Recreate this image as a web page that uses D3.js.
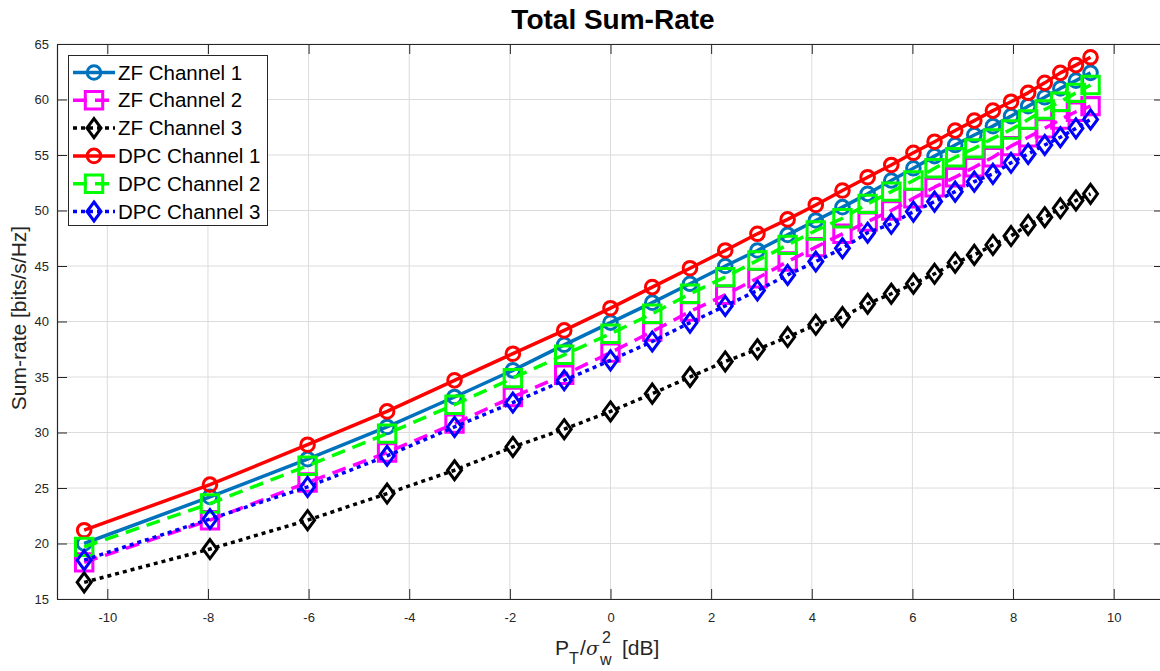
<!DOCTYPE html>
<html>
<head>
<meta charset="utf-8">
<script src="https://cdn.jsdelivr.net/npm/d3@7"></script>
<style>
  html, body { margin: 0; padding: 0; background: #fff; }
  svg { display: block; font-family: "Liberation Sans", Arial, Helvetica, sans-serif; }
</style>
</head>
<body>
<svg id="chart" width="1160" height="671"></svg>
<script>
// ---- data ----
const snrDb = [-10.46, -7.96, -6.02, -4.44, -3.10, -1.94, -0.92, 0, 0.83, 1.58, 2.28, 2.92, 3.52, 4.08, 4.61, 5.11, 5.58, 6.02, 6.44, 6.85, 7.23, 7.60, 7.96, 8.30, 8.63, 8.94, 9.25, 9.54];
const zfCh1  = [20.0, 24.2, 27.6, 30.5, 33.2, 35.6, 37.9, 39.9, 41.7, 43.4, 45.0, 46.4, 47.8, 49.1, 50.3, 51.5, 52.7, 53.8, 54.9, 55.9, 56.8, 57.6, 58.5, 59.4, 60.2, 61.0, 61.7, 62.4];
const zfCh2  = [18.3, 22.1, 25.5, 28.2, 30.8, 33.2, 35.2, 37.2, 39.1, 40.9, 42.4, 43.9, 45.4, 46.7, 47.9, 49.0, 50.0, 51.1, 52.1, 53.0, 53.9, 54.8, 55.8, 56.6, 57.4, 58.2, 58.9, 59.4];
const zfCh3  = [16.5, 19.5, 22.1, 24.5, 26.6, 28.7, 30.3, 31.9, 33.5, 35.0, 36.4, 37.5, 38.6, 39.7, 40.4, 41.6, 42.5, 43.4, 44.3, 45.3, 46.0, 46.9, 47.7, 48.7, 49.4, 50.2, 50.9, 51.5];
const dpcCh1 = [21.2, 25.3, 28.9, 31.9, 34.7, 37.1, 39.2, 41.2, 43.1, 44.8, 46.4, 47.9, 49.2, 50.5, 51.8, 53.0, 54.1, 55.2, 56.2, 57.2, 58.1, 59.0, 59.8, 60.6, 61.5, 62.4, 63.1, 63.8];
const dpcCh2 = [19.7, 23.6, 27.0, 29.9, 32.5, 34.9, 37.0, 38.9, 40.7, 42.5, 44.0, 45.5, 46.9, 48.2, 49.3, 50.6, 51.7, 52.7, 53.8, 54.8, 55.6, 56.5, 57.3, 58.2, 59.1, 59.8, 60.6, 61.3];
const dpcCh3 = [18.5, 22.2, 25.1, 27.9, 30.5, 32.7, 34.7, 36.5, 38.2, 39.9, 41.4, 42.8, 44.2, 45.4, 46.6, 48.0, 48.8, 49.9, 50.8, 51.7, 52.6, 53.3, 54.3, 55.1, 55.9, 56.6, 57.4, 58.2];
const seriesNames = ["ZF Channel 1", "ZF Channel 2", "ZF Channel 3", "DPC Channel 1", "DPC Channel 2", "DPC Channel 3"];
const xTicks = [-10, -8, -6, -4, -2, 0, 2, 4, 6, 8, 10];
const yTicks = [15, 20, 25, 30, 35, 40, 45, 50, 55, 60, 65];

// ---- styles ----
const styles = [
  { color: "#0072BD", dash: null,   marker: "circle"  },
  { color: "#FF00FF", dash: "14,8", marker: "square"  },
  { color: "#000000", dash: "4,4",  marker: "diamond" },
  { color: "#FF0000", dash: null,   marker: "circle"  },
  { color: "#00FF00", dash: "14,8", marker: "square"  },
  { color: "#0000FF", dash: "4,4",  marker: "diamond" }
];
const seriesValues = [zfCh1, zfCh2, zfCh3, dpcCh1, dpcCh2, dpcCh3];

const svg = d3.select("#chart");
const L = 57, T = 44, R = 1164, B = 599;
const x = d3.scaleLinear().domain([-11, 11]).range([L, R]);
const y = d3.scaleLinear().domain([15, 65]).range([B, T]);
const axisColor = "#262626";

// grid
const grid = svg.append("g");
grid.selectAll("line.gx").data(xTicks).join("line")
  .attr("x1", d => x(d)).attr("x2", d => x(d)).attr("y1", T).attr("y2", B)
  .attr("stroke", "#dcdcdc").attr("stroke-width", 1);
grid.selectAll("line.gy").data(yTicks).join("line")
  .attr("x1", L).attr("x2", R).attr("y1", d => y(d)).attr("y2", d => y(d))
  .attr("stroke", "#dcdcdc").attr("stroke-width", 1);

// axes
const tickLen = 10;
const fmt = d => String(d);
const xAxisB = d3.axisBottom(x).tickValues(xTicks).tickFormat(fmt).tickSizeInner(-tickLen).tickSizeOuter(0).tickPadding(14);
const xAxisT = d3.axisTop(x).tickValues(xTicks).tickSizeInner(-tickLen).tickSizeOuter(0).tickFormat("");
const yAxisL = d3.axisLeft(y).tickValues(yTicks).tickFormat(fmt).tickSizeInner(-tickLen).tickSizeOuter(0).tickPadding(8);
const yAxisR = d3.axisRight(y).tickValues(yTicks).tickSizeInner(-tickLen).tickSizeOuter(0).tickFormat("");
function styleAxis(g) {
  g.select(".domain").attr("stroke", axisColor).attr("stroke-width", 1.2);
  g.selectAll(".tick line").attr("stroke", axisColor).attr("stroke-width", 1);
  g.selectAll(".tick text").attr("fill", axisColor).attr("font-size", 13)
    .attr("font-family", "Liberation Sans, Arial, sans-serif");
}
svg.append("g").attr("transform", `translate(0,${B})`).call(xAxisB).call(styleAxis);
svg.append("g").attr("transform", `translate(0,${T})`).call(xAxisT).call(styleAxis);
svg.append("g").attr("transform", `translate(${L},0)`).call(yAxisL).call(styleAxis);
svg.append("g").attr("transform", `translate(${R},0)`).call(yAxisR).call(styleAxis);

// markers
function markerPath(type) {
  if (type === "circle") return d3.symbol().type(d3.symbolCircle).size(Math.PI * 6.8 * 6.8)();
  if (type === "square") return "M-8.7,-8.7L8.7,-8.7L8.7,8.7L-8.7,8.7Z";
  return "M0,-9.5L7,0L0,9.5L-7,0Z";
}

const line = d3.line().x(d => x(d[0])).y(d => y(d[1]));
const plot = svg.append("g");
seriesValues.forEach((vals, i) => {
  const st = styles[i];
  const pts = snrDb.map((xv, k) => [xv, vals[k]]);
  const g = plot.append("g");
  g.append("path").datum(pts).attr("d", line)
    .attr("fill", "none").attr("stroke", st.color).attr("stroke-width", 3.5)
    .attr("stroke-dasharray", st.dash).attr("stroke-linejoin", "round");
  g.selectAll("path.m").data(pts).join("path").attr("class", "m")
    .attr("transform", d => `translate(${x(d[0])},${y(d[1])})`)
    .attr("d", markerPath(st.marker))
    .attr("fill", "none").attr("stroke", st.color).attr("stroke-width", 3);
});

// legend
const lg = svg.append("g");
lg.append("rect").attr("x", 68.5).attr("y", 55.5).attr("width", 199).attr("height", 170)
  .attr("fill", "#fff").attr("stroke", axisColor).attr("stroke-width", 1);
seriesNames.forEach((name, i) => {
  const st = styles[i];
  const cy = 72.5 + i * 27.8;
  lg.append("line").attr("x1", 73).attr("x2", 115).attr("y1", cy).attr("y2", cy)
    .attr("stroke", st.color).attr("stroke-width", 3.5).attr("stroke-dasharray", st.dash);
  lg.append("path").attr("transform", `translate(94,${cy})`).attr("d", markerPath(st.marker))
    .attr("fill", "none").attr("stroke", st.color).attr("stroke-width", 3);
  lg.append("text").attr("x", 118).attr("y", cy).attr("dy", "0.35em")
    .attr("font-size", 20.5).attr("fill", "#000").text(name);
});

// title
svg.append("text").attr("x", 613).attr("y", 29).attr("text-anchor", "middle")
  .attr("font-size", 28).attr("font-weight", "bold").attr("fill", "#000").text("Total Sum-Rate");

// y label
svg.append("text").attr("transform", "translate(26,318) rotate(-90)").attr("text-anchor", "middle")
  .attr("font-size", 21).attr("fill", axisColor).text("Sum-rate [bits/s/Hz]");

// x label
const xl = svg.append("text").attr("y", 655).attr("font-size", 21).attr("fill", axisColor);
xl.append("tspan").attr("x", 555).text("P");
xl.append("tspan").attr("x", 569).attr("font-size", 16).attr("dy", 9).text("T");
xl.append("tspan").attr("x", 580).attr("dy", -9).text("/");
xl.append("tspan").attr("x", 586).attr("font-style", "italic").attr("font-family", "DejaVu Serif, serif").attr("font-size", 19).text("σ");
xl.append("tspan").attr("x", 602).attr("font-size", 16).attr("dy", -12).text("2");
xl.append("tspan").attr("x", 600).attr("font-size", 16).attr("dy", 22).text("w");
xl.append("tspan").attr("x", 622).attr("dy", -10).text("[dB]");
</script>
</body>
</html>
